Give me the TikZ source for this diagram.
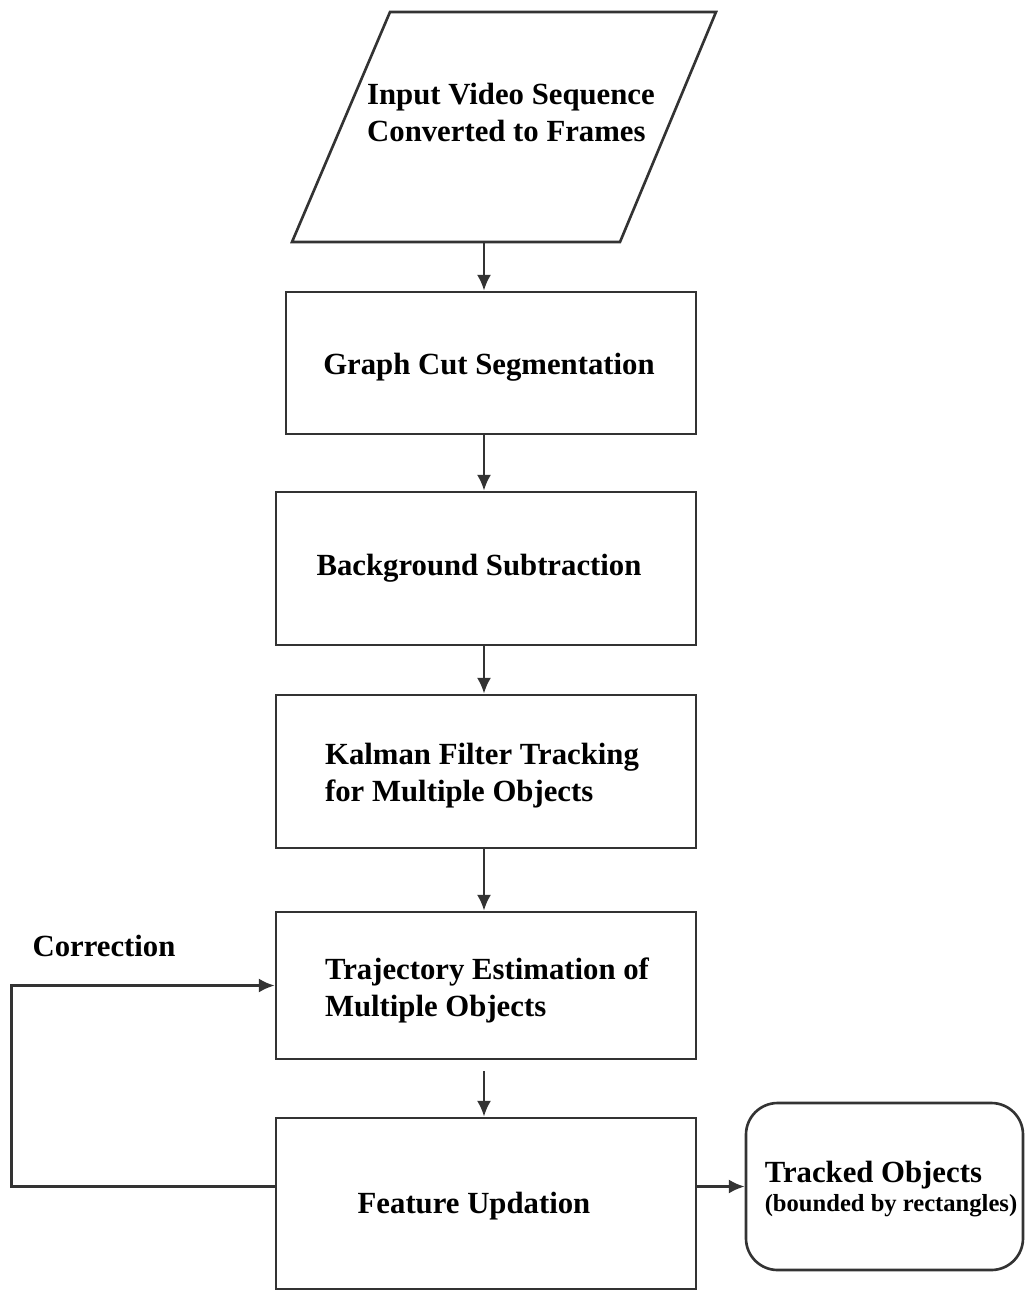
\documentclass[tikz,border=0pt]{standalone}
\usepackage{fontspec}
\setmainfont{Liberation Serif}
\usepackage{tikz}
\usetikzlibrary{positioning}
\usetikzlibrary{arrows.meta}

\begin{document}
\begin{tikzpicture}[
  line/.style={draw=black!80,line width=1.5pt},
  arr/.style={line,-{Latex[length=9pt,width=8pt]}},
  stepbox/.style={line,rectangle,minimum width=8.4cm,inner sep=0pt},
  txt/.style={font=\fontsize{17.5}{21}\selectfont\bfseries,align=left}
]
\useasboundingbox (0,0) rectangle (20.5,-25.8);

\draw[line] (7.8,-0.24) -- (14.32,-0.24) -- (12.4,-4.84) -- (5.84,-4.84) -- cycle;
\node[txt] (input) at (10.22,-2.25) {Input Video Sequence\\Converted to Frames};
\coordinate (inbot) at (9.68,-4.84);

\node[stepbox,minimum width=8.2cm,minimum height=2.84cm] (graph) at (9.82,-7.26) {};
\node[txt] (graphtxt) at (9.78,-7.34) {Graph Cut Segmentation};
\node[stepbox,minimum height=3.06cm] (back) at (9.72,-11.37) {};
\node[txt] (backtxt) at (9.58,-11.36) {Background Subtraction};
\node[stepbox,minimum height=3.06cm] (kalman) at (9.72,-15.43) {};
\node[txt] (kalmantxt) at (9.64,-15.51) {Kalman Filter Tracking\\for Multiple Objects};
\node[stepbox,minimum height=2.94cm] (traj) at (9.72,-19.71) {};
\node[txt] (trajtxt) at (9.74,-19.8) {Trajectory Estimation of\\Multiple Objects};
\node[stepbox,minimum height=3.42cm] (feat) at (9.72,-24.07) {};
\node[txt] (feattxt) at (9.48,-24.12) {Feature Updation};

\node[line,rectangle,rounded corners=18pt,minimum width=5.54cm,minimum height=3.34cm] (track) at (17.69,-23.73) {};
\node[align=left,font=\bfseries] (tracktxt) at (17.82,-23.78)
  {{\fontsize{17.5}{20}\selectfont Tracked Objects}\\[2pt]{\fontsize{14}{17}\selectfont (bounded by rectangles)}};

\node[txt] (corr) at (2.08,-18.92) {Correction};

\draw[arr] (inbot) -- (inbot |- graph.north);
\draw[arr] (graph.south -| inbot) -- (back.north -| inbot);
\draw[arr] (back.south -| inbot) -- (kalman.north -| inbot);
\draw[arr] (kalman.south -| inbot) -- (traj.north -| inbot);
\draw[arr,shorten <=0.22cm] (traj.south -| inbot) -- (feat.north -| inbot);
\draw[arr] (track.west -| feat.east) -- (track.west);
\draw[arr] (track.west -| feat.west) -- ++(-5.26,0) |- (traj.west);

\end{tikzpicture}
\end{document}
